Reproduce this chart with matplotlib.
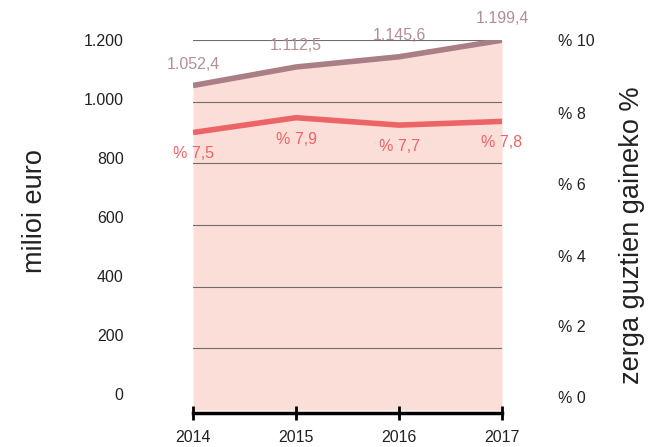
import matplotlib.pyplot as plt
plt.rc('font', family='Liberation Sans')

years = [2014, 2015, 2016, 2017]
amounts = [1052.4, 1112.5, 1145.6, 1199.4]
amountLabels = ['1.052,4', '1.112,5', '1.145,6', '1.199,4']
shares = [7.5, 7.9, 7.7, 7.8]
shareLabels = ['% 7,5', '% 7,9', '% 7,7', '% 7,8']
gridValues = [200, 400, 600, 800, 1000, 1200]
leftLabels = ['0', '200', '400', '600', '800', '1.000', '1.200']
rightLabels = ['% 0', '% 2', '% 4', '% 6', '% 8', '% 10']

# the tick labels in the original sit a bit off the grid lines
leftLabelPos = [52, 243, 435, 626, 817, 1009, 1200]
rightLabelPos = [0.35, 2.27, 4.16, 6.11, 8.03, 10]

topColor = '#a97e84'
redColor = '#ec6466'
fillColor = '#fbded8'
textColor = '#222222'

fig = plt.figure(figsize=(6.51, 4.47), dpi=100)
ax = fig.add_axes([0.2965, 0.0828, 0.4747, 0.8277])
ax2 = ax.twinx()

ax.set_xlim(2014, 2017)
ax.set_ylim(0, 1200)
ax2.set_ylim(0, 10)

ax.fill_between(years, 0, amounts, color=fillColor, lw=0, zorder=1)
for g in gridValues:
    ax.axhline(g, color='#6e6e6e', lw=0.8, zorder=2)
ax.plot(years, amounts, color=topColor, lw=4, solid_capstyle='butt', zorder=3)
ax2.plot(years, shares, color=redColor, lw=4, solid_capstyle='butt', zorder=3)

for x, y, t in zip(years, amounts, amountLabels):
    ax.annotate(t, (x, y), xytext=(0, 10), textcoords='offset points',
                ha='center', va='bottom', fontsize=11.5, color='#b48e93')
for x, y, t in zip(years, shares, shareLabels):
    ax2.annotate(t, (x, y), xytext=(0, -10), textcoords='offset points',
                 ha='center', va='top', fontsize=11.5, color=redColor)

for sp in ['top', 'left', 'right']:
    ax.spines[sp].set_visible(False)
    ax2.spines[sp].set_visible(False)
ax2.spines['bottom'].set_visible(False)
ax.spines['bottom'].set_position(('data', -10))
ax.spines['bottom'].set_linewidth(2.5)
ax.spines['bottom'].set_zorder(5)

ax.set_xticks(years)
ax.set_xticklabels([str(y) for y in years], fontsize=11.5, color=textColor)
ax.tick_params(axis='x', direction='inout', length=10, width=2, pad=7)

ax.set_yticks(leftLabelPos)
ax.set_yticklabels(leftLabels, fontsize=11.5, color=textColor)
ax.tick_params(axis='y', length=0, pad=50)

ax2.set_yticks(rightLabelPos)
ax2.set_yticklabels(rightLabels, fontsize=11.5, color=textColor)
ax2.tick_params(axis='y', length=0, pad=40)

fig.text(0.054, 0.528, 'milioi euro', rotation=90, ha='center', va='center', fontsize=19.5, color=textColor)
fig.text(0.971, 0.474, 'zerga guztien gaineko %', rotation=90, ha='center', va='center', fontsize=19.5, color=textColor)

fig.savefig('out.png', dpi=100)
